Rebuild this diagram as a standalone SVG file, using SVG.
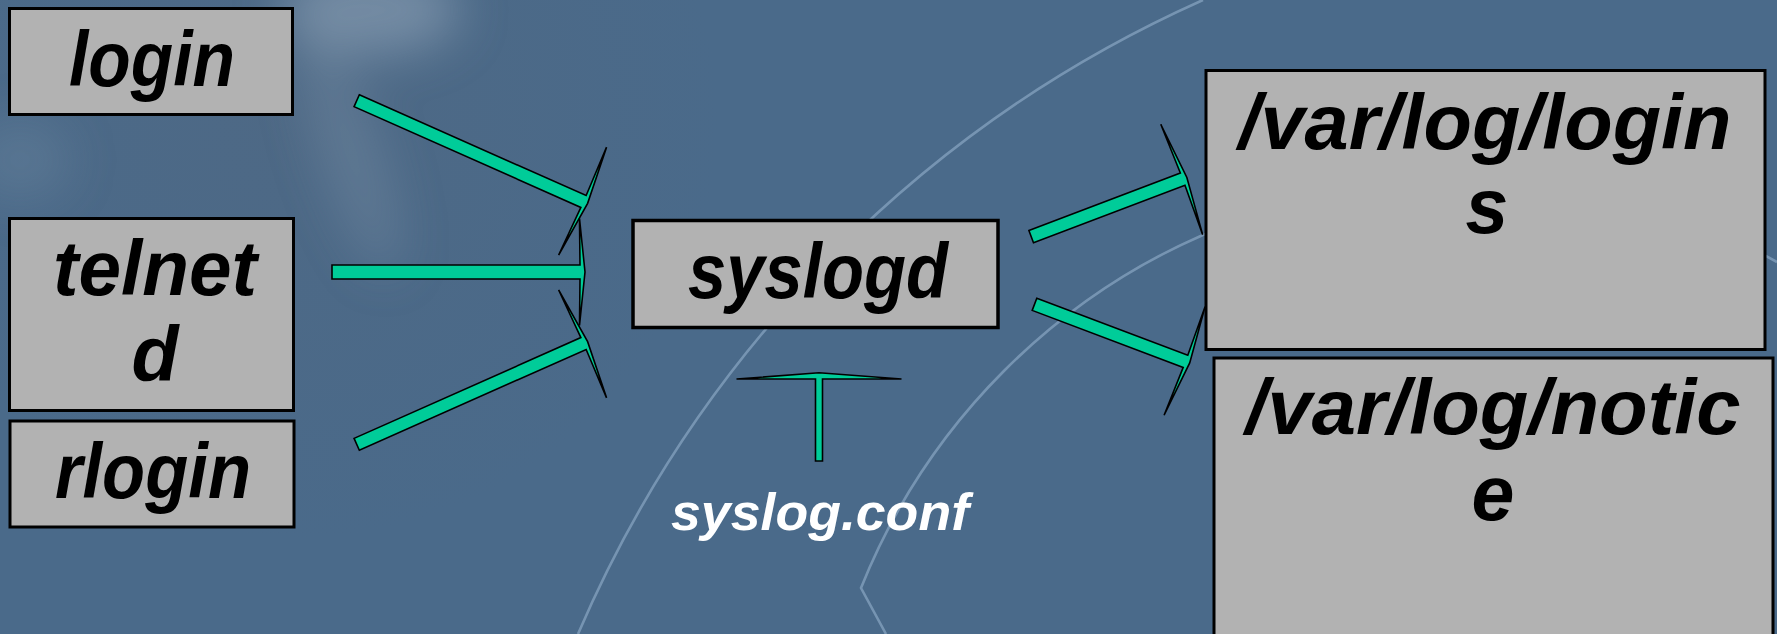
<svg xmlns="http://www.w3.org/2000/svg" width="1777" height="634" viewBox="0 0 1777 634">
  <defs>
    <style>
      .box { fill: #b2b2b2; stroke: #000; stroke-width: 3; }
      .lbl { font-family: "Liberation Sans", Arial, sans-serif; font-weight: bold; font-style: italic; font-size: 77px; fill: #000; text-anchor: middle; }
      .note { font-family: "Liberation Sans", Arial, sans-serif; font-weight: bold; font-style: italic; font-size: 52px; fill: #fff; text-anchor: middle; }
      .arrow { fill: #00cc99; stroke: #000; stroke-width: 1.6; stroke-linejoin: miter; stroke-miterlimit: 4; }
      .swoosh { fill: none; stroke: #86a3bf; stroke-width: 2.6; opacity: 0.75; }
    </style>
    <radialGradient id="shade" cx="300" cy="120" r="420" gradientUnits="userSpaceOnUse">
      <stop offset="0" stop-color="#52677f" stop-opacity="0.45"/>
      <stop offset="1" stop-color="#52677f" stop-opacity="0"/>
    </radialGradient>
    <filter id="haze" x="-50%" y="-50%" width="200%" height="200%">
      <feGaussianBlur stdDeviation="24"/>
    </filter>
  </defs>

  <!-- backdrop -->
  <rect x="0" y="0" width="1777" height="634" fill="#4a6a8a"/>
  <rect x="0" y="0" width="900" height="600" fill="url(#shade)"/>
  <g filter="url(#haze)">
    <ellipse cx="370" cy="10" rx="90" ry="45" fill="#a5b6c8" opacity="0.45"/>
    <ellipse cx="350" cy="150" rx="30" ry="130" transform="rotate(-18 350 150)" fill="#94a8bc" opacity="0.25"/>
    <ellipse cx="20" cy="160" rx="50" ry="40" fill="#8aa0b6" opacity="0.22"/>
  </g>
  <path class="swoosh" d="M1203,0 A1222,1222 0 0 0 578,634"/>
  <path class="swoosh" d="M1777,262 A648,648 0 0 0 861,588 L886,634"/>

  <!-- connectors -->
  <g id="connectors">
    <polygon class="arrow" transform="translate(356.7,100.7) rotate(23.96)" points="0,-6.5 248.2,-6.5 247.2,-59 252.7,0 247.2,59 248.2,6.5 0,6.5"/>
    <polygon class="arrow" transform="translate(332,272)" points="0,-7 248,-7 247.5,-53.5 253,0 247.5,53.5 248,7 0,7"/>
    <polygon class="arrow" transform="translate(356.7,444.3) rotate(-23.96)" points="0,-6.5 248.2,-6.5 247.2,-59 252.7,0 247.2,59 248.2,6.5 0,6.5"/>
    <polygon class="arrow" transform="translate(1031.2,236.6) rotate(-20.79)" points="0,-6.5 162,-6.5 161,-59 166.5,0 161,59 162,6.5 0,6.5"/>
    <polygon class="arrow" transform="translate(1034.5,304.3) rotate(20.68)" points="0,-6.5 161.4,-6.5 160.4,-58 165.9,0 160.4,58 161.4,6.5 0,6.5"/>
    <polygon class="arrow" transform="translate(819,461) rotate(-90)" points="0,-3.5 82,-3.5 82,-82.5 88.2,0 82,82.5 82,3.5 0,3.5"/>
  </g>

  <!-- sources -->
  <g id="login">
    <rect class="box" x="9.5" y="8.5" width="283" height="106"/>
    <text class="lbl" x="152" y="86" textLength="166" lengthAdjust="spacingAndGlyphs">login</text>
  </g>
  <g id="telnetd">
    <rect class="box" x="9.5" y="218.5" width="284" height="192"/>
    <text class="lbl" x="155" y="295" textLength="204" lengthAdjust="spacingAndGlyphs">telnet</text>
    <text class="lbl" x="155" y="381">d</text>
  </g>
  <g id="rlogin">
    <rect class="box" x="10" y="421" width="284" height="106"/>
    <text class="lbl" x="153" y="498" textLength="196" lengthAdjust="spacingAndGlyphs">rlogin</text>
  </g>

  <!-- daemon -->
  <g id="syslogd">
    <rect x="633" y="220.5" width="365" height="107" fill="#b2b2b2" stroke="#000" stroke-width="3.5"/>
    <text class="lbl" x="818" y="298" textLength="260" lengthAdjust="spacingAndGlyphs">syslogd</text>
  </g>
  <g id="syslog-conf">
    <text class="note" x="820" y="530" textLength="298" lengthAdjust="spacingAndGlyphs">syslog.conf</text>
  </g>

  <!-- log files -->
  <g id="var-log-logins">
    <rect class="box" x="1206" y="70.5" width="559" height="279"/>
    <text class="lbl" x="1485" y="149" textLength="493" lengthAdjust="spacingAndGlyphs">/var/log/login</text>
    <text class="lbl" x="1487" y="233">s</text>
  </g>
  <g id="var-log-notice">
    <rect class="box" x="1214" y="358" width="559" height="290"/>
    <text class="lbl" x="1493" y="434" textLength="495" lengthAdjust="spacingAndGlyphs">/var/log/notic</text>
    <text class="lbl" x="1493" y="520">e</text>
  </g>
</svg>
